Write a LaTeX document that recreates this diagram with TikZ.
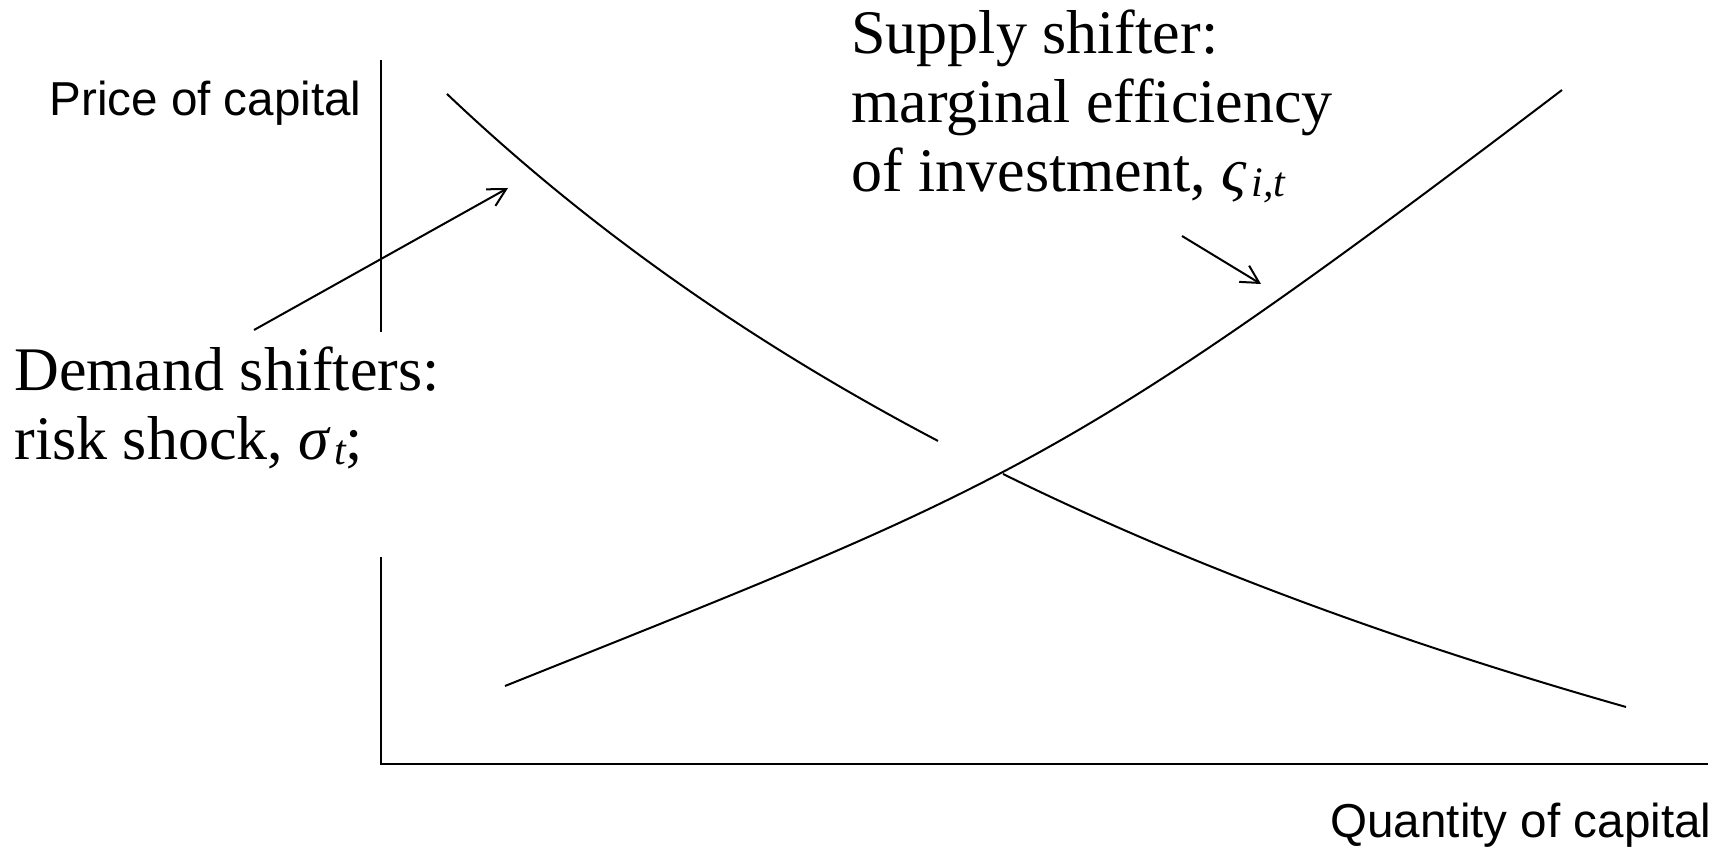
\documentclass[tikz,border=0pt]{standalone}
\usepackage{fontspec}
\setmainfont{Liberation Serif}
\newfontfamily\axisfont{Liberation Sans}
\usetikzlibrary{arrows.meta}
\newcommand\lowsub[1]{\hspace{2.5pt}\raisebox{-2.2pt}{\fontsize{21}{21}\selectfont\itshape #1}}
\begin{document}
\begin{tikzpicture}[x=0.5pt,y=-0.5pt,
  axis/.style={line width=1.2pt},
  curve/.style={line width=1pt},
  shifter/.style={line width=1pt,-{Straight Barb[length=8.8pt,width=9.5pt,line width=1pt]}},
  axislabel/.style={font=\axisfont\fontsize{23.8}{28}\selectfont, inner sep=0pt, anchor=base west},
  biglabel/.style={font=\fontsize{31}{34.5}\selectfont, inner sep=0pt, anchor=base west, align=left},
]
\useasboundingbox (0,0) rectangle (1724,860);
% axes
\coordinate (ytop) at (381,60);
\coordinate (ymid1) at (381,332);
\coordinate (ymid2) at (381,557);
\coordinate (origin) at (381,764);
\coordinate (xend) at (1708,764);
\draw[axis] (ytop) -- (ymid1);
\draw[axis] (ymid2) -- (origin) -- (xend);
% demand curve (two pieces of one hyperbola)
\draw[curve] plot[domain=447:938, samples=80] (\x, {1447.9 - 1929.337/((\x+978)/1000)});
\draw[curve] plot[domain=1003:1626, samples=80] (\x, {1447.9 - 1929.337/((\x+978)/1000)});
% supply curve
\coordinate (s0) at (505,686);
\coordinate (s1) at (1562,90);
\draw[curve] (s0) .. controls (1005,486) and (1062,470) .. (s1);
% labels
\node[axislabel] (py) at (49,116) {Price of capital};
\node[axislabel] (qx) at (1330,837) {Quantity of capital};
\node[biglabel] (sup) at (851,192) {Supply shifter:\\marginal efficiency\\of investment, {\itshape ς}\lowsub{i,t}};
\node[biglabel] (dem) at (14,460) {Demand shifters:\\risk shock, {\itshape σ}\lowsub{t};};
% shifter arrows
\coordinate (a1s) at (254,330);
\coordinate (a1e) at (508,188);
\coordinate (a2s) at (1182,236);
\coordinate (a2e) at (1261,284);
\draw[shifter] (a1s) -- (a1e);
\draw[shifter] (a2s) -- (a2e);
\end{tikzpicture}
\end{document}
